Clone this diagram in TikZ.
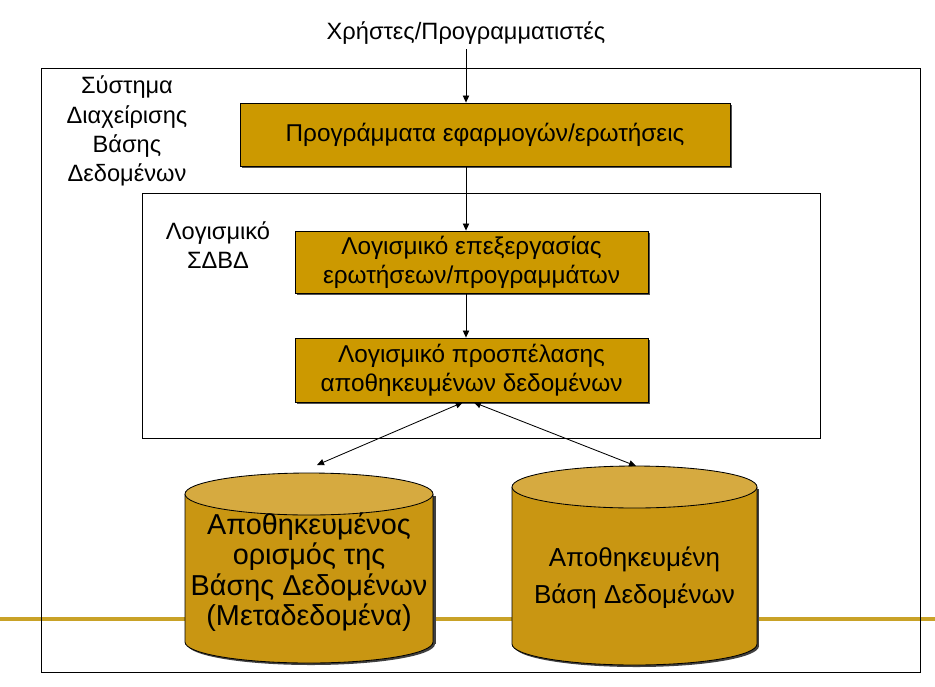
\documentclass[tikz,border=0pt]{standalone}
\usepackage{fontspec}
\setmainfont{Liberation Sans}
\usetikzlibrary{arrows.meta,shadows}
\definecolor{boxgold}{HTML}{CC9900}
\definecolor{cyltop}{HTML}{D6AA40}
\definecolor{cylbody}{HTML}{C99612}
\definecolor{barline}{HTML}{C9A227}

\begin{document}
\begin{tikzpicture}[x=0.025cm,y=-0.025cm,
	goldbox/.style={draw,line width=0.6pt,fill=boxgold,align=center,inner sep=0pt,
		font=\fontsize{17.3}{20.8}\selectfont,
		drop shadow={shadow xshift=1.4pt,shadow yshift=-1.4pt,fill=black!75,opacity=0.9}},
	label/.style={align=center,font=\fontsize{16.8}{20.8}\selectfont},
	cyltext/.style={align=center,font=\fontsize{20.5}{21.5}\selectfont},
	flow/.style={-{Triangle[length=5pt,width=4.5pt]},line width=0.6pt},
	both/.style={{Triangle[length=5pt,width=4.5pt]}-{Triangle[length=5pt,width=4.5pt]},line width=0.6pt}]
		\useasboundingbox (0,0) rectangle (935,686);
		% bar of the slide
		\draw[barline,line width=2.2pt] (0,619) -- (935,619);
		% frames
		\draw[line width=0.7pt] (41,68) rectangle (920,672);
		\draw[line width=0.7pt] (142,193) rectangle (820,438);
		\node[label] (users) at (466,33) {Χρήστες/Προγραμματιστές};
		\node[label] (dbms) at (127,131) {Σύστημα\\Διαχείρισης\\Βάσης\\Δεδομένων};
		\node[label] (software) at (218,245) {Λογισμικό\\ΣΔΒΔ};
		% boxes
		\node[goldbox,minimum width=12.25cm,minimum height=1.575cm] (prog) at (485,134.5) {Προγράμματα εφαρμογών/ερωτήσεις};
		\node[goldbox,minimum width=8.825cm,minimum height=1.55cm] (query) at (471.5,262) {Λογισμικό επεξεργασίας\\ερωτήσεων/προγραμμάτων};
		\node[goldbox,minimum width=8.825cm,minimum height=1.6cm] (access) at (471.5,370) {Λογισμικό προσπέλασης\\αποθηκευμένων δεδομένων};
		% cylinder: meta data
		\fill[black!75] (187,496) rectangle (436,644);
		\fill[black!75] (311,644) ellipse[x radius=124,y radius=21];
		\fill[cylbody] (185,494) rectangle (433,642);
		\fill[cylbody] (309,642) ellipse[x radius=124,y radius=21];
		\draw[line width=0.6pt] (185,494) -- (185,642) arc[start angle=180,end angle=0,x radius=124,y radius=21] -- (433,494);
		\filldraw[fill=cyltop,line width=0.6pt] (309,494) ellipse[x radius=124,y radius=21];
		\node[cyltext] (meta) at (309,572) {Αποθηκευμένος\\ορισμός της\\Βάσης Δεδομένων\\(Μεταδεδομένα)};
		\coordinate (metatop) at (317,465);
		% cylinder: stored data
		\fill[black!75] (514,489) rectangle (759,646);
		\fill[black!75] (636.5,646) ellipse[x radius=122.5,y radius=21];
		\fill[cylbody] (512,487) rectangle (757,644);
		\fill[cylbody] (634.5,644) ellipse[x radius=122.5,y radius=21];
		\draw[line width=0.6pt] (512,487) -- (512,644) arc[start angle=180,end angle=0,x radius=122.5,y radius=21] -- (757,487);
		\filldraw[fill=cyltop,line width=0.6pt] (634.5,487) ellipse[x radius=122.5,y radius=21];
		\node[cyltext,font=\fontsize{18.5}{26}\selectfont] (store) at (634.5,578) {Αποθηκευμένη\\Βάση Δεδομένων};
		\coordinate (storetop) at (636,466);
		% arrows
		\draw[flow] (users) -- (users |- prog.north);
		\draw[flow] (users |- prog.south) -- (users |- query.north);
		\draw[flow] (users |- query.south) -- (users |- access.north);
		\draw[both] ([xshift=-0.22cm]access.south) -- (metatop);
		\draw[both] ([xshift=0.06cm]access.south) -- (storetop);
\end{tikzpicture}
\end{document}
